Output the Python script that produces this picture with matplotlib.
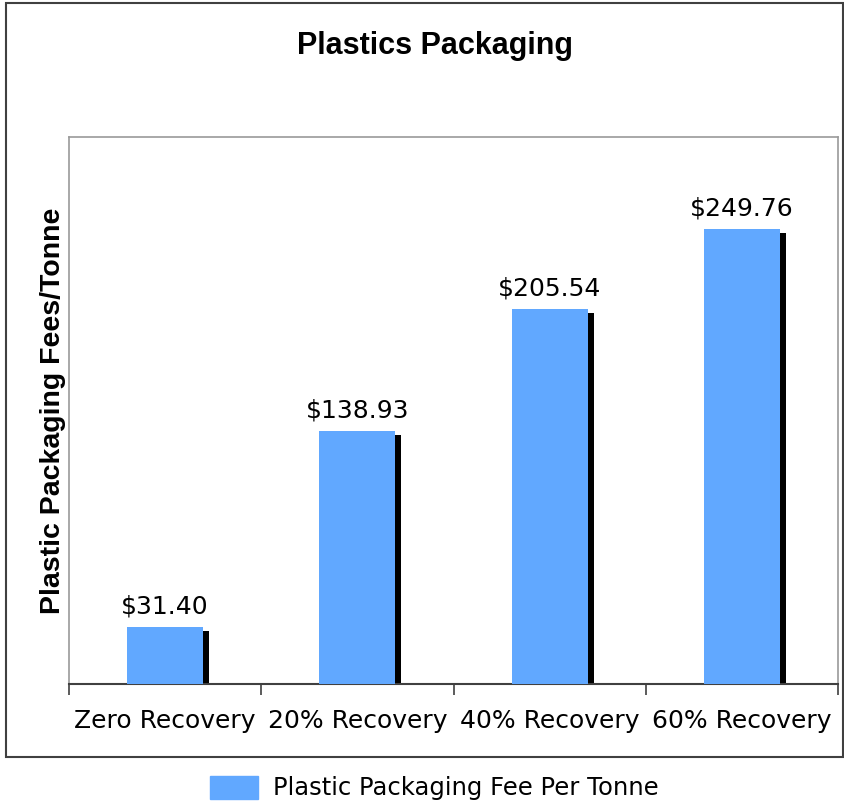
import matplotlib
matplotlib.use("Agg")
import matplotlib.pyplot as plt
from matplotlib.patches import Patch, Rectangle
from matplotlib.transforms import ScaledTranslation

categories = ["Zero Recovery", "20% Recovery", "40% Recovery", "60% Recovery"]
fees = [31.40, 138.93, 205.54, 249.76]
value_labels = ["$31.40", "$138.93", "$205.54", "$249.76"]
series_name = "Plastic Packaging Fee Per Tonne"

BAR_COLOR = "#61a8ff"
DPI = 100

fig = plt.figure(figsize=(8.44, 8.01), dpi=DPI)
W, H = 844, 801
ax = fig.add_axes([69 / W, 1 - 684 / H, (838 - 69) / W, (684 - 137) / H])

x = list(range(len(categories)))
width = 0.395

# drop shadow behind each bar, shifted right and down by a few pixels
shadow = ax.transData + ScaledTranslation(6 / DPI, -4 / DPI, fig.dpi_scale_trans)
ax.bar(x, fees, width=width, color="black", transform=shadow, zorder=2)
ax.bar(x, fees, width=width, color=BAR_COLOR, zorder=3)

for xi, v, lab in zip(x, fees, value_labels):
    ax.annotate(lab, (xi, v), xytext=(0, 6), textcoords="offset points",
                ha="center", va="bottom", fontsize=18, family="DejaVu Sans")

ax.set_xlim(-0.5, len(categories) - 0.5)
ax.set_ylim(0, 300)
ax.set_yticks([])
ax.set_xticks([i - 0.5 for i in range(len(categories) + 1)])
ax.set_xticklabels([])
ax.set_xticks(x, minor=True)
ax.set_xticklabels(categories, minor=True, fontsize=18, family="DejaVu Sans")
ax.tick_params(axis="x", which="major", direction="out", length=8, width=1.2, color="#404040")
ax.tick_params(axis="x", which="minor", length=0, pad=18)

for side in ["left", "top", "right"]:
    ax.spines[side].set_color("#9a9a9a")
    ax.spines[side].set_linewidth(1.2)
ax.spines["bottom"].set_color("#404040")
ax.spines["bottom"].set_linewidth(1.5)

ax.set_ylabel("Plastic Packaging Fees/Tonne", fontsize=20.5, fontweight="bold",
              family="Liberation Sans", labelpad=2)

fig.text(435 / W, 1 - 46 / H, "Plastics Packaging", ha="center", va="center",
         fontsize=22, fontweight="bold", family="Liberation Sans")

# outer chart frame
fig.patches.append(Rectangle((6 / W, 1 - 757 / H), (843 - 6) / W, (757 - 3) / H,
                             transform=fig.transFigure, fill=False,
                             edgecolor="#404040", linewidth=1.5))

fig.legend(handles=[Patch(color=BAR_COLOR, label=series_name)],
           loc="center", bbox_to_anchor=(434 / W, 1 - 788 / H), frameon=False,
           handlelength=2.0, handleheight=1.1, handletextpad=0.6,
           prop={"family": "DejaVu Sans", "size": 17.5})

fig.savefig("out.png", dpi=DPI)
